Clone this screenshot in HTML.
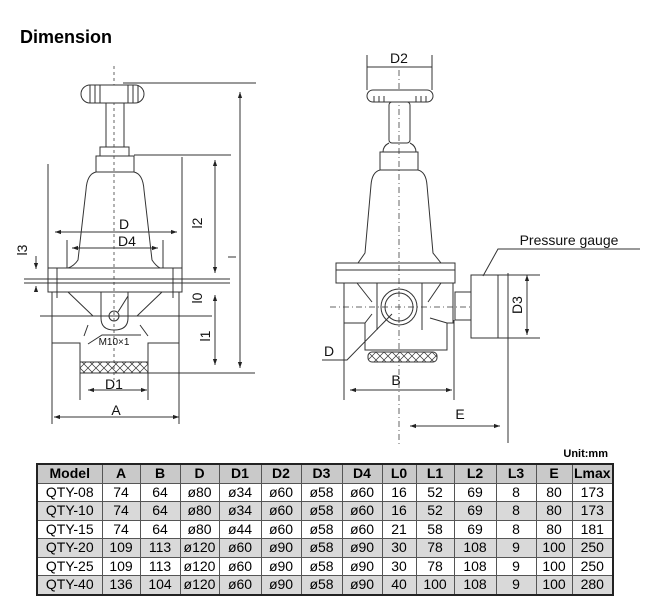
<!DOCTYPE html>
<html><head><meta charset="utf-8"><style>
body{margin:0;background:#fff;width:650px;height:600px;overflow:hidden;position:relative;font-family:"Liberation Sans",Arial,sans-serif}
svg{position:absolute;left:0;top:0}
table{position:absolute;left:36px;top:463px;border-collapse:collapse;border:2px solid #222;font-size:14px}
td{border:1px solid #555;height:17.5px;padding:0;text-align:center;line-height:17px}
tr.h td{background:#c9c9c9;font-weight:bold}
tr.g td{background:#d9d9d9}
</style></head><body>
<svg width="650" height="460" viewBox="0 0 650 460" font-family="Liberation Sans, Arial, sans-serif">
<defs>
<marker id="a" viewBox="0 0 10 10" refX="10" refY="5" markerWidth="6" markerHeight="6" orient="auto-start-reverse"><path d="M0,1.5 L10,5 L0,8.5z" fill="#222"/></marker>
<pattern id="x" width="8" height="8" patternUnits="userSpaceOnUse"><path d="M0,0 L8,8 M8,0 L0,8" stroke="#333" stroke-width="0.7"/></pattern>
</defs>
<text x="20" y="43" font-size="18" font-weight="bold">Dimension</text>
<g stroke="#333" stroke-width="1" fill="none">
<line x1="114" y1="66" x2="114" y2="380" stroke-dasharray="3,3" stroke="#666"/>
<rect x="81" y="85" width="63" height="18" rx="9" fill="#fff"/>
<path d="M90,85 v18 M95,85 v18 M100,85 v18 M128,85 v18 M133,85 v18 M138,85 v18"/>
<line x1="123" y1="83" x2="256" y2="83"/>
<rect x="106" y="103" width="18" height="44"/>
<rect x="100" y="147" width="29" height="9"/>
<rect x="96" y="156" width="38" height="16"/>
<line x1="134" y1="155" x2="231" y2="155"/>
<path d="M96,172 Q87,174 86,190 L78,260 Q74,266 68,268 M134,172 Q143,174 144,190 L152,260 Q156,266 160,268"/>
<rect x="48" y="268" width="134" height="24"/>
<line x1="24" y1="279" x2="230" y2="279"/><line x1="24" y1="283" x2="230" y2="283"/>
<line x1="57" y1="268" x2="57" y2="298"/><line x1="173" y1="268" x2="173" y2="298"/>
<line x1="48" y1="164" x2="48" y2="268"/><line x1="182" y1="157" x2="182" y2="268"/>
<line x1="67" y1="240" x2="67" y2="268"/><line x1="163" y1="240" x2="163" y2="268"/>
<line x1="52" y1="292" x2="52" y2="424"/><line x1="179" y1="292" x2="179" y2="424"/>
<path d="M68,292 L93,316 M162,292 L137,316 M101,292 V318 Q101,330 114,330 Q128,330 128,318 V292 M128,296 L118,312 M88,325 L84,336 M140,325 L148,336"/>
<circle cx="114" cy="316" r="5"/>
<line x1="40" y1="316" x2="212" y2="316"/>
<path d="M88,344 L102,335 L141,335"/>
<path d="M52,343 H80 V400 M179,343 H148 V400"/>
<rect x="80" y="362" width="68" height="11" fill="url(#x)"/>
<line x1="148" y1="373" x2="255" y2="373"/>
<line x1="55" y1="232" x2="177" y2="232" marker-start="url(#a)" marker-end="url(#a)"/>
<line x1="72" y1="248" x2="158" y2="248" marker-start="url(#a)" marker-end="url(#a)"/>
<line x1="88" y1="390" x2="147" y2="390" marker-start="url(#a)" marker-end="url(#a)"/>
<line x1="54" y1="417" x2="179" y2="417" marker-start="url(#a)" marker-end="url(#a)"/>
<line x1="240" y1="92" x2="240" y2="368" marker-start="url(#a)" marker-end="url(#a)"/>
<line x1="215" y1="160" x2="215" y2="273" marker-start="url(#a)" marker-end="url(#a)"/>
<line x1="215" y1="295" x2="215" y2="365" marker-start="url(#a)" marker-end="url(#a)"/>
<line x1="36" y1="256" x2="36" y2="269"  marker-end="url(#a)"/>
<line x1="36" y1="292" x2="36" y2="286" marker-end="url(#a)"/>
<line x1="228" y1="257" x2="236" y2="257"/>
<line x1="399" y1="70" x2="399" y2="445" stroke-dasharray="6,3,1,3" stroke="#666"/>
<line x1="330" y1="307" x2="480" y2="307" stroke-dasharray="6,3,1,3" stroke="#666"/>
<line x1="367" y1="55" x2="367" y2="90"/><line x1="432" y1="55" x2="432" y2="90"/>
<line x1="367" y1="67" x2="432" y2="67"/>
<rect x="367" y="90" width="66" height="12" rx="6" fill="#fff"/>
<path d="M374,96 v6 M379,96 v6 M384,96 v6 M416,96 v6 M421,96 v6 M426,96 v6"/>
<rect x="389" y="102" width="21" height="41" rx="3"/>
<path d="M389,143 Q383,146 383,152 M410,143 Q416,146 416,152"/>
<rect x="380" y="152" width="38" height="18"/>
<path d="M380,170 Q372,172 371,185 L365,253 L358,263 M418,170 Q426,172 427,185 L433,253 L441,263"/>
<rect x="336" y="263" width="119" height="20"/>
<line x1="336" y1="270" x2="455" y2="270"/>
<path d="M344,283 V323 H365 V350 H447 V323 H453 V283"/>
<path d="M357,283 L372,302 M441,283 L428,302 M377,283 V330 M422,283 V330 M365,323 L372,314 M447,323 L430,318"/>
<circle cx="399" cy="307" r="18"/><circle cx="399" cy="307" r="14"/>
<rect x="368" y="352" width="69" height="10" rx="4" fill="url(#x)"/>
<rect x="455" y="292" width="16" height="28"/>
<rect x="471" y="275" width="37" height="63" fill="#fff"/>
<line x1="498" y1="275" x2="498" y2="338"/>
<line x1="508" y1="275" x2="540" y2="275"/><line x1="508" y1="338" x2="540" y2="338"/>
<line x1="508" y1="273" x2="508" y2="443"/>
<line x1="527" y1="275" x2="527" y2="335" marker-start="url(#a)" marker-end="url(#a)"/>
<path d="M483,276 L498,249 H640"/>
<line x1="344" y1="323" x2="344" y2="400"/><line x1="454" y1="320" x2="454" y2="400"/>
<line x1="350" y1="390" x2="452" y2="390" marker-start="url(#a)" marker-end="url(#a)"/>
<line x1="410" y1="426" x2="500" y2="426" marker-start="url(#a)" marker-end="url(#a)"/>
<path d="M322,360 H347 L392,314"/>
</g>
<g font-size="14" fill="#111" text-anchor="middle">
<text x="124" y="229">D</text><text x="127" y="246">D4</text>
<text x="114" y="389">D1</text><text x="116" y="415">A</text>
<text x="114" y="345" font-size="10">M10×1</text>
<text x="399" y="63">D2</text><text x="396" y="385">B</text><text x="460" y="419">E</text>
<text x="329" y="356">D</text>
<text x="0" y="0" transform="translate(202,223) rotate(-90)">l2</text>
<text x="0" y="0" transform="translate(202,298) rotate(-90)">l0</text>
<text x="0" y="0" transform="translate(210,336) rotate(-90)">l1</text>
<text x="0" y="0" transform="translate(27,250) rotate(-90)">l3</text>
<text x="0" y="0" transform="translate(522,305) rotate(-90)">D3</text>
<text x="569" y="245" font-size="14">Pressure gauge</text>
</g>
<text x="608" y="457" font-size="11" font-weight="bold" text-anchor="end">Unit:mm</text>
</svg>
<table>
<colgroup><col style="width:65px"><col style="width:38px"><col style="width:40px"><col style="width:39px"><col style="width:42px"><col style="width:40px"><col style="width:41px"><col style="width:40px"><col style="width:34px"><col style="width:38px"><col style="width:42px"><col style="width:40px"><col style="width:36px"><col style="width:41px"></colgroup>
<tr class="h"><td>Model</td><td>A</td><td>B</td><td>D</td><td>D1</td><td>D2</td><td>D3</td><td>D4</td><td>L0</td><td>L1</td><td>L2</td><td>L3</td><td>E</td><td>Lmax</td></tr>
<tr><td>QTY-08</td><td>74</td><td>64</td><td>ø80</td><td>ø34</td><td>ø60</td><td>ø58</td><td>ø60</td><td>16</td><td>52</td><td>69</td><td>8</td><td>80</td><td>173</td></tr>
<tr class="g"><td>QTY-10</td><td>74</td><td>64</td><td>ø80</td><td>ø34</td><td>ø60</td><td>ø58</td><td>ø60</td><td>16</td><td>52</td><td>69</td><td>8</td><td>80</td><td>173</td></tr>
<tr><td>QTY-15</td><td>74</td><td>64</td><td>ø80</td><td>ø44</td><td>ø60</td><td>ø58</td><td>ø60</td><td>21</td><td>58</td><td>69</td><td>8</td><td>80</td><td>181</td></tr>
<tr class="g"><td>QTY-20</td><td>109</td><td>113</td><td>ø120</td><td>ø60</td><td>ø90</td><td>ø58</td><td>ø90</td><td>30</td><td>78</td><td>108</td><td>9</td><td>100</td><td>250</td></tr>
<tr><td>QTY-25</td><td>109</td><td>113</td><td>ø120</td><td>ø60</td><td>ø90</td><td>ø58</td><td>ø90</td><td>30</td><td>78</td><td>108</td><td>9</td><td>100</td><td>250</td></tr>
<tr class="g"><td>QTY-40</td><td>136</td><td>104</td><td>ø120</td><td>ø60</td><td>ø90</td><td>ø58</td><td>ø90</td><td>40</td><td>100</td><td>108</td><td>9</td><td>100</td><td>280</td></tr>
</table>
</body></html>
